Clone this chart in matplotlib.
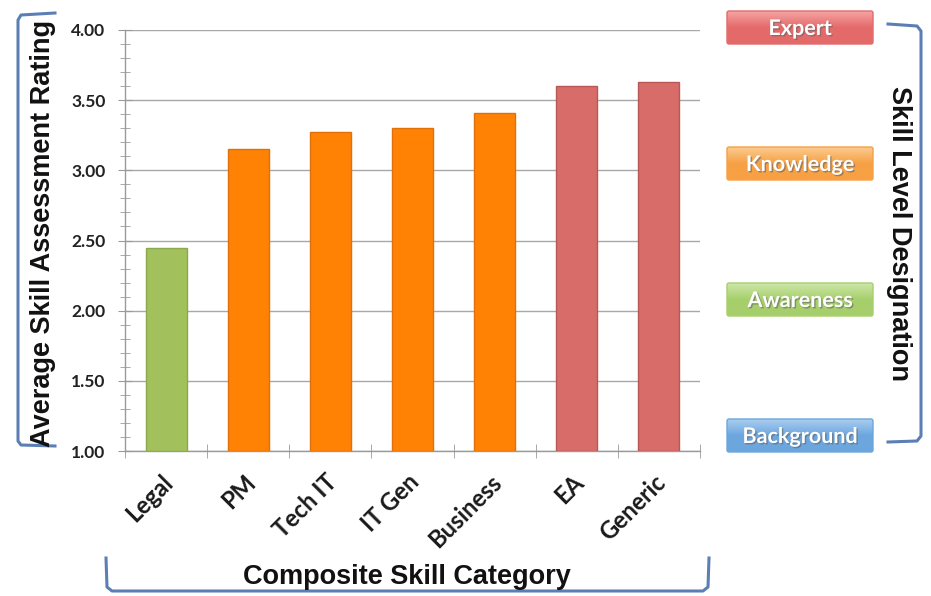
import matplotlib
matplotlib.use("Agg")
import matplotlib.pyplot as plt
import numpy as np
from matplotlib.patches import FancyBboxPatch
from matplotlib.ticker import MultipleLocator, FormatStrFormatter
from matplotlib.transforms import ScaledTranslation
import matplotlib.patheffects as pe

categories = ["Legal", "PM", "Tech IT", "IT Gen", "Business", "EA", "Generic"]
ratings = [2.45, 3.15, 3.27, 3.30, 3.41, 3.60, 3.63]
bar_colors = ["#A2C15C", "#FF8205", "#FF8205", "#FF8205", "#FF8205", "#D86C69", "#D86C69"]
edge_colors = ["#8CA84C", "#E0700A", "#E0700A", "#E0700A", "#E0700A", "#B85856", "#B85856"]
levels = ["Expert", "Knowledge", "Awareness", "Background"]
level_colors = ["#E46A6A", "#F7A044", "#A6CF6C", "#6CA6DE"]
level_light = ["#F5A3A3", "#FBCB8F", "#CDE7A8", "#A9CDF0"]

W, H = 931, 596
fig = plt.figure(figsize=(W / 100, H / 100), dpi=100)
fig.patch.set_facecolor("white")

ax = fig.add_axes([125 / W, 1 - 451 / H, 575 / W, 421 / H])
x = np.arange(len(categories))
ax.bar(x, [r - 1.0 for r in ratings], bottom=1.0, width=0.5, color=bar_colors,
       edgecolor=edge_colors, linewidth=1.0, zorder=3)
ax.set_xlim(-0.5, len(categories) - 0.5)
ax.set_ylim(1.0, 4.0)
ax.yaxis.set_major_locator(MultipleLocator(0.5))
ax.yaxis.set_minor_locator(MultipleLocator(0.1))
ax.yaxis.set_major_formatter(FormatStrFormatter("%.2f"))
ax.grid(axis="y", which="major", color="#A8A8A8", linewidth=1.0, zorder=0)
for s in ["top", "right"]:
    ax.spines[s].set_visible(False)
for s in ["left", "bottom"]:
    ax.spines[s].set_color("#9A9A9A")
    ax.spines[s].set_linewidth(1.0)
ax.tick_params(axis="y", which="major", direction="inout", length=10, color="#9A9A9A",
               labelsize=12.5, pad=9)
ax.tick_params(axis="y", which="minor", direction="inout", length=7, color="#9A9A9A")
ax.set_xticks(x)
ax.set_xticks(np.arange(len(categories) + 1) - 0.5, minor=True)
ax.tick_params(axis="x", which="major", length=0, pad=14)
ax.tick_params(axis="x", which="minor", direction="inout", length=10, color="#9A9A9A")
ax.set_xticklabels(categories, rotation=45, ha="right", rotation_mode="anchor",
                   fontsize=17, fontfamily="Lato", fontweight="bold", color="#1A1A1A")
for lab in ax.get_xticklabels():
    lab.set_transform(lab.get_transform() + ScaledTranslation(-5 / 100, 0, fig.dpi_scale_trans))
for lab in ax.get_yticklabels():
    lab.set_fontfamily("Lato")
    lab.set_fontweight("bold")
    lab.set_color("#222222")

# overlay in pixel coordinates
ov = fig.add_axes([0, 0, 1, 1], zorder=5)
ov.axis("off")
ov.patch.set_alpha(0)

bc = "#5B7FB5"
tfs = 19.5
# left bracket
ov.plot([55, 21, 18, 18, 21, 55], [13, 15, 20, 441, 445, 446], color=bc, lw=2.2,
        solid_joinstyle="round")
ov.text(43, 233, "Average Skill Assessment Rating", rotation=90, ha="center", va="center",
        fontsize=tfs, fontweight="bold", fontfamily="Liberation Sans", color="#111111")
# right bracket
ov.plot([888, 917, 921, 921, 917, 888], [24, 26, 31, 436, 441, 442], color=bc, lw=2.2,
        solid_joinstyle="round")
ov.text(899, 233, "Skill Level Designation", rotation=-90, ha="center", va="center",
        fontsize=tfs, fontweight="bold", fontfamily="Liberation Sans", color="#111111")
# bottom bracket
ov.plot([106, 107, 112, 703, 708, 709], [558, 587, 591, 591, 587, 558], color=bc, lw=2.2,
        solid_joinstyle="round")
ov.text(407, 577, "Composite Skill Category", ha="center", va="center",
        fontsize=tfs, fontweight="bold", fontfamily="Liberation Sans", color="#111111")

# level boxes
box_y = [11, 147, 283, 419]
for lab, yy, c, cl in zip(levels, box_y, level_colors, level_light):
    x0, w, h = 727, 146, 33
    grad = np.linspace(0, 1, 50)[:, None]
    cmap = matplotlib.colors.LinearSegmentedColormap.from_list("g", [cl, c, c])
    im = ov.imshow(grad, extent=[x0, x0 + w, yy + h, yy], cmap=cmap, aspect="auto",
                   zorder=2, origin="upper")
    p = FancyBboxPatch((x0, yy), w, h, boxstyle="round,pad=0,rounding_size=2",
                       facecolor="none", edgecolor=c, lw=1.0, zorder=3)
    ov.add_patch(p)
    im.set_clip_path(p)
    ov.text(x0 + w / 2, yy + h / 2 + 1, lab, ha="center", va="center", fontsize=15.5,
            fontweight="bold", fontfamily="Lato", color="white", zorder=4,
            path_effects=[pe.withSimplePatchShadow(offset=(1, -1), shadow_rgbFace="#666666", alpha=0.6)])
ov.set_xlim(0, W)
ov.set_ylim(H, 0)

fig.savefig("out.png", dpi=100)
